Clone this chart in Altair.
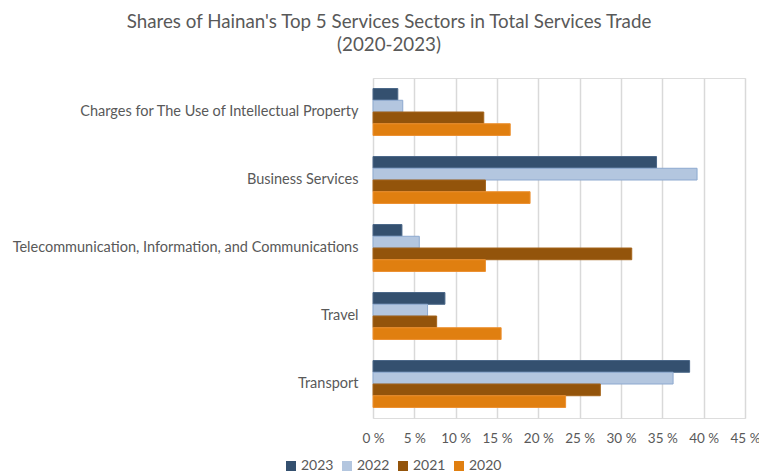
import altair as alt
import pandas as pd

# Services sectors, top to bottom
sectors = [
    "Charges for The Use of Intellectual Property",
    "Business Services",
    "Telecommunication, Information, and Communications ",
    "Travel",
    "Transport",
]
years = ["2023", "2022", "2021", "2020"]

# Share of total services trade (%), one list per year, in sector order
share_2023 = [3.0, 34.3, 3.5, 8.7, 38.3]
share_2022 = [3.6, 39.2, 5.6, 6.6, 36.3]
share_2021 = [13.4, 13.6, 31.3, 7.7, 27.5]
share_2020 = [16.6, 19.0, 13.6, 15.5, 23.3]

x_ticks = [0, 5, 10, 15, 20, 25, 30, 35, 40, 45]

fills = ["#34506F", "#B3C6DF", "#93540B", "#E07F10"]
strokes = ["#4A6788", "#8DA9CF", "#A5651C", "#EC9030"]

series = {"2023": share_2023, "2022": share_2022, "2021": share_2021, "2020": share_2020}
rows = []
for yr, vals in series.items():
    for sec, v in zip(sectors, vals):
        rows.append({"Sector": sec, "Year": yr, "Share": v})
df = pd.DataFrame(rows)

FONT = "Lato"
GREY = "#595959"

chart = (
    alt.Chart(df)
    .mark_bar(strokeWidth=1)
    .encode(
        y=alt.Y(
            "Sector:N",
            sort=sectors,
            title=None,
            scale=alt.Scale(paddingInner=0.31, paddingOuter=0.155),
            axis=alt.Axis(
                domain=False,
                ticks=False,
                grid=False,
                labelPadding=15,
                labelLimit=400,
                labelFontSize=14.5,
                labelColor=GREY,
                labelFont=FONT,
            ),
        ),
        yOffset=alt.YOffset("Year:N", sort=years),
        x=alt.X(
            "Share:Q",
            title=None,
            scale=alt.Scale(domain=[0, 45], nice=False),
            axis=alt.Axis(
                values=x_ticks,
                labelExpr="datum.value + ' %'",
                labelOverlap=False,
                labelFlush=False,
                domain=False,
                ticks=False,
                grid=True,
                gridColor="#D9D9D9",
                gridWidth=1.5,
                labelPadding=13,
                labelFontSize=13.5,
                labelColor=GREY,
                labelFont=FONT,
            ),
        ),
        color=alt.Color(
            "Year:N",
            sort=years,
            scale=alt.Scale(domain=years, range=fills),
            legend=alt.Legend(
                title=None,
                orient="none",
                direction="horizontal",
                legendX=-89,
                legendY=381,
                symbolType="square",
                symbolSize=100,
                symbolStrokeWidth=0,
                labelFontSize=14,
                labelColor=GREY,
                labelFont=FONT,
                columnPadding=6,
                labelOffset=3,
            ),
        ),
        stroke=alt.Stroke(
            "Year:N", sort=years, scale=alt.Scale(domain=years, range=strokes), legend=None
        ),
    )
    .properties(
        width=372,
        height=340,
        title=alt.Title(
            ["Shares of Hainan's Top 5 Services Sectors in Total Services Trade", "(2020-2023)"],
            font=FONT,
            fontSize=18.75,
            fontWeight="normal",
            color=GREY,
            anchor="middle",
            dx=-170,
            offset=23,
            lineHeight=23,
        ),
        autosize=alt.AutoSizeParams(type="none"),
        padding={"left": 373, "top": 78, "right": 14, "bottom": 57},
    )
    .configure_view(stroke=None)
    .configure(background="white")
)

chart.save("out.html", embed_options={"renderer": "svg", "actions": False})
